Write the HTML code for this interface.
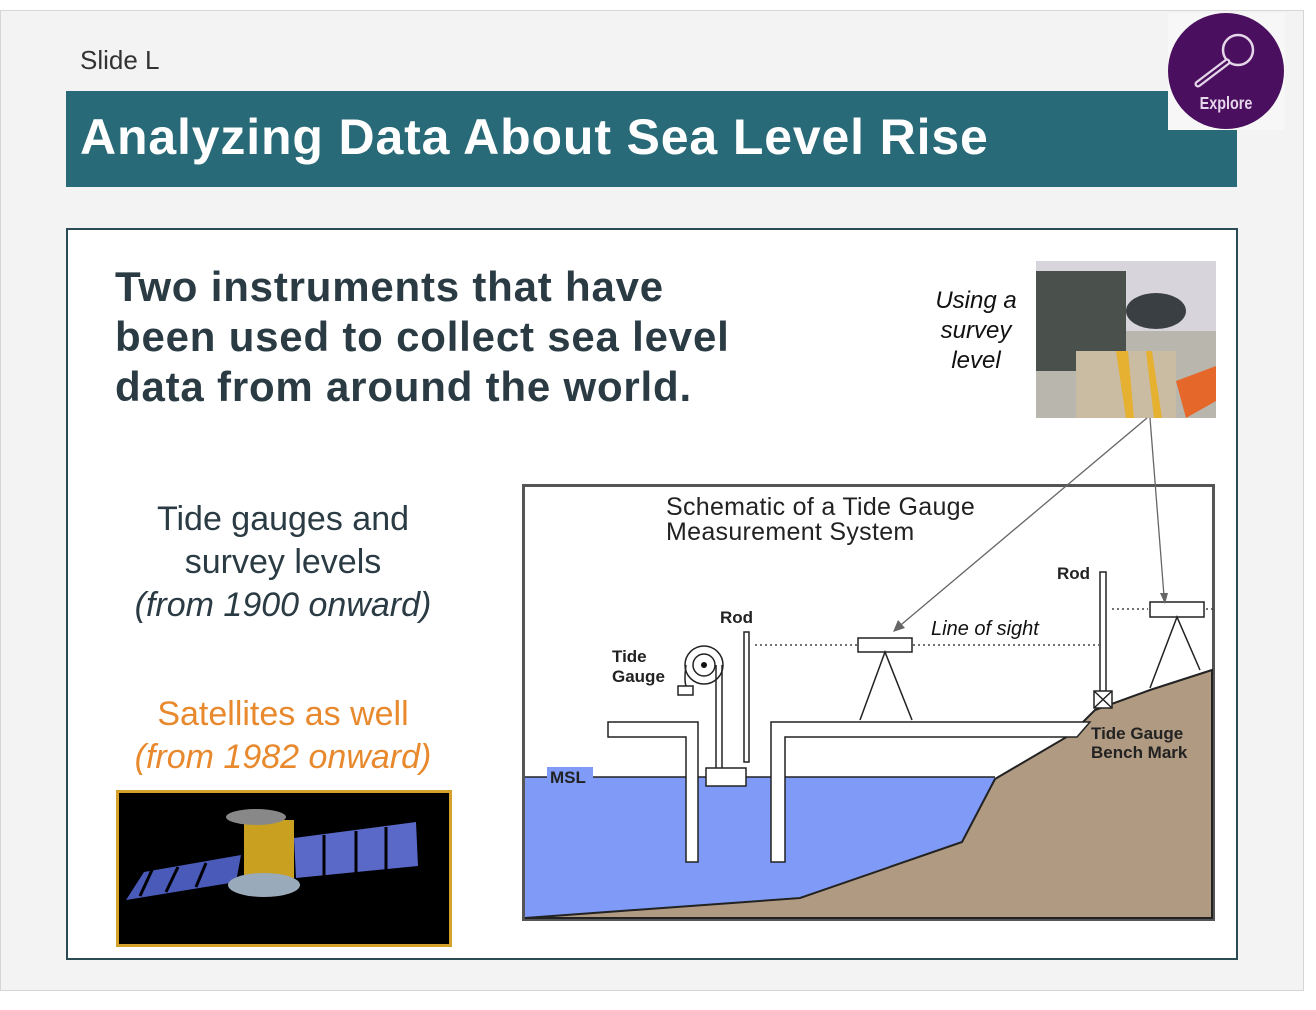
<!DOCTYPE html>
<html><head><meta charset="utf-8"><style>
html,body{margin:0;padding:0;background:#fff;}
body{width:1316px;height:1010px;position:relative;overflow:hidden;font-family:"Liberation Sans",sans-serif;}
.slide{position:absolute;left:0;top:10px;width:1302px;height:979px;background:#f3f3f3;border:1px solid #d6d6d6;}
.t{position:absolute;white-space:nowrap;}
</style></head><body>
<div class="slide"></div>
<div class="t" style="left:80px;top:45px;font-size:26px;color:#333;">Slide L</div>
<div style="position:absolute;left:66px;top:91px;width:1171px;height:96px;background:#286a78;"></div>
<div class="t" style="left:80px;top:108px;font-size:50px;font-weight:bold;color:#fff;letter-spacing:0.85px;">Analyzing Data About Sea Level Rise</div>
<div style="position:absolute;left:1168px;top:13px;width:117px;height:117px;background:#f7f7f7;"></div>
<svg style="position:absolute;left:1168px;top:12px" width="118" height="118">
<circle cx="58" cy="59" r="58" fill="#4a0f5e"/>
<circle cx="70" cy="38" r="15" fill="none" stroke="#e6d6ea" stroke-width="2.5"/>
<line x1="59" y1="50" x2="30" y2="72" stroke="#e6d6ea" stroke-width="7" stroke-linecap="round"/>
<line x1="59" y1="50" x2="30" y2="72" stroke="#4a0f5e" stroke-width="2.5" stroke-linecap="round"/>
<text x="0" y="97" transform="translate(58,0) scale(0.8,1)" text-anchor="middle" font-family="Liberation Sans" font-weight="bold" font-size="18" fill="#e6d6ea">Explore</text>
</svg>
<div style="position:absolute;left:66px;top:228px;width:1168px;height:728px;background:#fff;border:2px solid #2c4a52;"></div>
<div class="t" style="left:115px;top:262px;font-size:42px;font-weight:bold;color:#2a3b44;line-height:50px;letter-spacing:0.8px;">Two instruments that have<br>been used to collect sea level<br>data from around the world.</div>
<div class="t" style="left:83px;top:498px;width:400px;text-align:center;font-size:34px;color:#2a3b44;line-height:43px;">Tide gauges and<br>survey levels<br><i>(from 1900 onward)</i></div>
<div class="t" style="left:83px;top:693px;width:400px;text-align:center;font-size:34px;color:#e8892d;line-height:43px;">Satellites as well<br><i>(from 1982 onward)</i></div>
<div class="t" style="left:900px;top:286px;width:152px;text-align:center;font-size:24px;font-style:italic;color:#111;line-height:30px;">Using a<br>survey<br>level</div>
<svg style="position:absolute;left:116px;top:790px" width="336" height="157">
<rect x="1.5" y="1.5" width="333" height="154" fill="#000" stroke="#d4a22a" stroke-width="3"/>
<polygon points="10,110 120,92 125,65 28,82" fill="#4a5ab8"/>
<line x1="36" y1="80" x2="24" y2="106" stroke="#000" stroke-width="3"/>
<line x1="62" y1="77" x2="50" y2="102" stroke="#000" stroke-width="3"/>
<line x1="90" y1="73" x2="80" y2="97" stroke="#000" stroke-width="3"/>
<polygon points="180,88 302,76 300,32 178,48" fill="#5a68c8"/>
<line x1="208" y1="45" x2="208" y2="86" stroke="#000" stroke-width="3"/>
<line x1="240" y1="41" x2="240" y2="83" stroke="#000" stroke-width="3"/>
<line x1="270" y1="37" x2="270" y2="80" stroke="#000" stroke-width="3"/>
<rect x="128" y="30" width="50" height="60" fill="#c9a020"/>
<ellipse cx="140" cy="27" rx="30" ry="8" fill="#888"/>
<ellipse cx="148" cy="95" rx="36" ry="12" fill="#9ab"/>
</svg>
<svg style="position:absolute;left:1036px;top:261px" width="180" height="157">
<rect width="180" height="157" fill="#b9b6ae"/>
<rect width="180" height="70" fill="#d8d4dc"/>
<rect x="0" y="10" width="90" height="100" fill="#4a514c"/>
<rect x="40" y="90" width="100" height="67" fill="#c9bca3"/>
<ellipse cx="120" cy="50" rx="30" ry="18" fill="#3a3f44"/>
<polygon points="80,90 90,157 98,157 92,90" fill="#e6b030"/>
<polygon points="110,90 118,157 126,157 116,90" fill="#e6b030"/>
<polygon points="140,120 180,105 180,140 150,157" fill="#e5672a"/>
</svg>
<svg style="position:absolute;left:0;top:0" width="1316" height="1010" font-family="Liberation Sans">
<rect x="523.5" y="485.5" width="690" height="434" fill="#fff" stroke="#555" stroke-width="3"/>
<polygon points="525,777 995,777 965,840 800,897 525,918" fill="#7f9bf7"/>
<polygon points="1212,670 1150,690 1095,710 1070,735 995,779 962,842 800,898 525,918 1212,918" fill="#b09a82" stroke="#222" stroke-width="2"/>
<line x1="525" y1="777" x2="995" y2="777" stroke="#222" stroke-width="1.5"/>
<path d="M608,722 H698 V862 H686 V737 H608 Z" fill="#fff" stroke="#222" stroke-width="1.5"/>
<path d="M771,862 V722 H1090 L1077,737 H785 V862 Z" fill="#fff" stroke="#222" stroke-width="1.5"/>
<circle cx="704" cy="665" r="19" fill="#fff" stroke="#222" stroke-width="1.5"/>
<circle cx="704" cy="665" r="11" fill="#fff" stroke="#222" stroke-width="1.5"/>
<circle cx="704" cy="665" r="3" fill="#111"/>
<line x1="722" y1="665" x2="722" y2="768" stroke="#222" stroke-width="1.5"/>
<line x1="716" y1="665" x2="716" y2="768" stroke="#222" stroke-width="1.5"/>
<path d="M686,665 Q684,680 686,686" fill="none" stroke="#222" stroke-width="1.5"/>
<rect x="678" y="686" width="15" height="9" fill="#fff" stroke="#222" stroke-width="1.5"/>
<rect x="706" y="768" width="40" height="18" fill="#fff" stroke="#222" stroke-width="1.5"/>
<rect x="744" y="632" width="5" height="130" fill="#fff" stroke="#222" stroke-width="1.5"/>
<line x1="755" y1="645" x2="857" y2="645" stroke="#444" stroke-width="1.5" stroke-dasharray="2,3"/>
<line x1="913" y1="645" x2="1099" y2="645" stroke="#444" stroke-width="1.5" stroke-dasharray="2,3"/>
<rect x="858" y="638" width="54" height="14" fill="#fff" stroke="#222" stroke-width="1.5"/>
<path d="M860,720 L885,652 L912,720" fill="none" stroke="#222" stroke-width="1.5"/>
<rect x="1100" y="572" width="6" height="120" fill="#fff" stroke="#222" stroke-width="1.5"/>
<rect x="1094" y="691" width="18" height="17" fill="#fff" stroke="#222" stroke-width="1.5"/>
<path d="M1094,691 L1112,708 M1112,691 L1094,708" stroke="#222" stroke-width="1.5"/>
<line x1="1112" y1="609" x2="1148" y2="609" stroke="#444" stroke-width="1.5" stroke-dasharray="2,3"/>
<line x1="1206" y1="609" x2="1213" y2="609" stroke="#444" stroke-width="1.5" stroke-dasharray="2,3"/>
<rect x="1150" y="602" width="54" height="15" fill="#fff" stroke="#222" stroke-width="1.5"/>
<path d="M1150,688 L1177,617 L1200,670" fill="none" stroke="#222" stroke-width="1.5"/>
<line x1="1147" y1="418" x2="896" y2="629" stroke="#666" stroke-width="1.3"/>
<polygon points="893,632 898,620 905,628" fill="#666"/>
<line x1="1150" y1="418" x2="1164" y2="596" stroke="#666" stroke-width="1.3"/>
<polygon points="1165,604 1160,593 1168,593" fill="#666"/>
<text x="666" y="515" font-size="25" letter-spacing="0.3" fill="#222">Schematic of a Tide Gauge</text>
<text x="666" y="540" font-size="25" letter-spacing="0.3" fill="#222">Measurement System</text>
<text x="720" y="623" font-size="17" font-weight="bold" fill="#222">Rod</text>
<text x="612" y="662" font-size="17" font-weight="bold" fill="#222">Tide</text>
<text x="612" y="682" font-size="17" font-weight="bold" fill="#222">Gauge</text>
<text x="1057" y="579" font-size="17" font-weight="bold" fill="#222">Rod</text>
<text x="931" y="635" font-size="20" font-style="italic" fill="#111">Line of sight</text>
<text x="1091" y="739" font-size="17" font-weight="bold" fill="#222">Tide Gauge</text>
<text x="1091" y="758" font-size="17" font-weight="bold" fill="#222">Bench Mark</text>
<rect x="547" y="767" width="46" height="18" fill="#7f9bf7"/>
<text x="550" y="783" font-size="17" font-weight="bold" fill="#222">MSL</text>
</svg>
</body></html>
